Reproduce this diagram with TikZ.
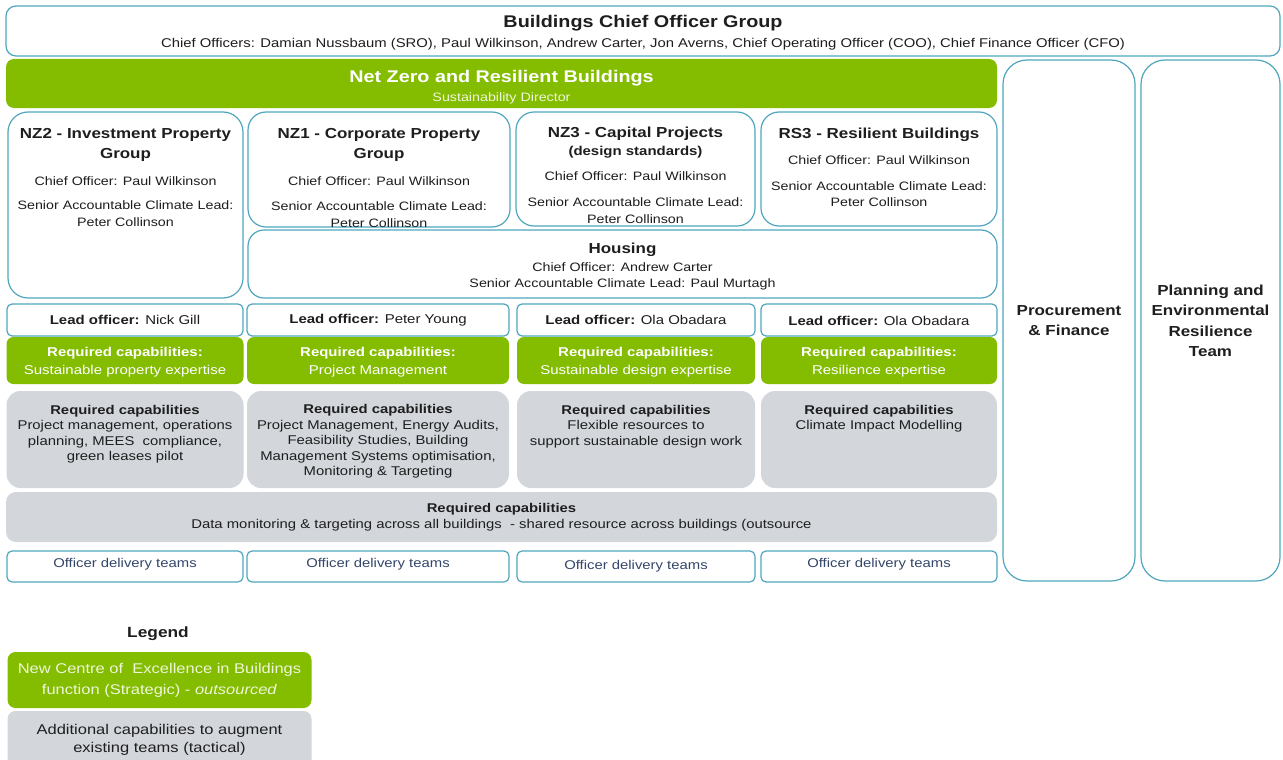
\documentclass[tikz,border=0pt]{standalone}
\usepackage{fontspec}
\setmainfont{Liberation Sans}[FakeStretch=1.17]
\definecolor{edge}{HTML}{4FA6BD}
\definecolor{nzgreen}{HTML}{84BD00}
\definecolor{capgrey}{HTML}{D3D7DC}
\definecolor{ink}{HTML}{1E1E1E}
\definecolor{teamblue}{HTML}{34466A}
\definecolor{palegreen}{HTML}{EEF7DA}
\tikzset{
  unitbox/.style={draw=edge, line width=1.2pt, fill=white, rounded corners=#1, inner sep=0pt},
  unitbox/.default=8pt,
  stratbox/.style={fill=nzgreen, rounded corners=#1, inner sep=0pt},
  stratbox/.default=7pt,
  tactbox/.style={fill=capgrey, rounded corners=#1, inner sep=0pt},
  tactbox/.default=14pt,
  headtxt/.style={font=\fontsize{14.5}{20.5}\selectfont\bfseries, text=ink, align=center, inner sep=0pt},
  bodytxt/.style={font=\fontsize{12.2}{16.5}\selectfont, text=ink, align=center, inner sep=0pt},
  captxt/.style={font=\fontsize{12.7}{15.5}\selectfont, text=ink, align=center, inner sep=0pt},
}
\begin{document}
\begin{tikzpicture}[x=1pt, y=-1pt]
  \useasboundingbox (0,0) rectangle (1283,760);
  % top rows
  \node[unitbox=10pt, minimum width=1274, minimum height=50] (cog) at (643,31) {};
  \node[headtxt, font=\fontsize{16.9}{20}\selectfont\bfseries] (cogt) at (643,23.5) {Buildings Chief Officer Group};
  \node[bodytxt, font=\fontsize{12.7}{16}\selectfont] (cogs) at (643,44.5) {Chief Officers: Damian Nussbaum (SRO), Paul Wilkinson, Andrew Carter, Jon Averns, Chief Operating Officer (COO), Chief Finance Officer (CFO)};
  \node[stratbox=8pt, minimum width=991, minimum height=49] (nzr) at (501.5,83.5) {};
  \node[headtxt, text=white, font=\fontsize{16.9}{20}\selectfont\bfseries] (nzrt) at (501.5,78.5) {Net Zero and Resilient Buildings};
  \node[bodytxt, text=palegreen] (nzrs) at (501.5,98) {Sustainability Director};
  % side columns
  \node[unitbox=24pt, minimum width=132, minimum height=521] (proc) at (1069,320.5) {};
  \node[headtxt] (proct) at (1069,320.5) {Procurement\\\& Finance};
  \node[unitbox=24pt, minimum width=139, minimum height=521] (plan) at (1210.5,320.5) {};
  \node[headtxt] (plant) at (1210.5,321) {Planning and\\Environmental\\Resilience\\Team};
  % programme boxes
  \node[unitbox=20pt, minimum width=235, minimum height=186] (nz2) at (125.5,205) {};
  \node[headtxt] (nz2t) at (125.5,145) {NZ2 - Investment Property\\Group};
  \node[bodytxt] (nz2c) at (125.5,181) {Chief Officer: Paul Wilkinson};
  \node[bodytxt] (nz2s) at (125.5,213.5) {Senior Accountable Climate Lead:\\Peter Collinson};
  \node[unitbox=18pt, minimum width=262, minimum height=115] (nz1) at (379,169.5) {};
  \node[headtxt] (nz1t) at (379,145) {NZ1 - Corporate Property\\Group};
  \node[bodytxt] (nz1c) at (379,181) {Chief Officer: Paul Wilkinson};
  \node[bodytxt] (nz1s) at (379,214.5) {Senior Accountable Climate Lead:\\Peter Collinson};
  \node[unitbox=18pt, minimum width=239, minimum height=114] (nz3) at (635.5,169) {};
  \node[headtxt] (nz3t) at (635.5,133.5) {NZ3 - Capital Projects};
  \node[headtxt, font=\fontsize{12.8}{16}\selectfont\bfseries] (nz3d) at (635.5,152.5) {(design standards)};
  \node[bodytxt] (nz3c) at (635.5,176) {Chief Officer: Paul Wilkinson};
  \node[bodytxt] (nz3s) at (635.5,210.5) {Senior Accountable Climate Lead:\\Peter Collinson};
  \node[unitbox=18pt, minimum width=236, minimum height=114] (rs3) at (879,169) {};
  \node[headtxt] (rs3t) at (879,134.5) {RS3 - Resilient Buildings};
  \node[bodytxt] (rs3c) at (879,160) {Chief Officer: Paul Wilkinson};
  \node[bodytxt] (rs3s) at (879,194) {Senior Accountable Climate Lead:\\Peter Collinson};
  \node[unitbox=16pt, minimum width=749, minimum height=68] (hou) at (622.5,264) {};
  \node[headtxt] (hout) at (622.5,250) {Housing};
  \node[bodytxt] (houc) at (622.5,267) {Chief Officer: Andrew Carter};
  \node[bodytxt] (hous) at (622.5,284) {Senior Accountable Climate Lead: Paul Murtagh};
  % lead officers
  \node[unitbox=5pt, minimum width=236, minimum height=32] (lead2) at (125,320) {};
  \node[bodytxt, font=\fontsize{12.8}{16}\selectfont] (lead2t) at (125,320) {\textbf{Lead officer:} Nick Gill};
  \node[unitbox=5pt, minimum width=262, minimum height=32] (lead1) at (378,320) {};
  \node[bodytxt, font=\fontsize{12.8}{16}\selectfont] (lead1t) at (378,320) {\textbf{Lead officer:} Peter Young};
  \node[unitbox=5pt, minimum width=238, minimum height=32] (lead3) at (636,320) {};
  \node[bodytxt, font=\fontsize{12.8}{16}\selectfont] (lead3t) at (636,320) {\textbf{Lead officer:} Ola Obadara};
  \node[unitbox=5pt, minimum width=236, minimum height=32] (leadr) at (879,320) {};
  \node[bodytxt, font=\fontsize{12.8}{16}\selectfont] (leadrt) at (879,321) {\textbf{Lead officer:} Ola Obadara};
  % strategic capabilities
  \node[stratbox, minimum width=237, minimum height=47] (str2) at (125,360.5) {};
  \node[captxt, text=white, font=\fontsize{12.8}{18}\selectfont] (str2t) at (125,362.5) {\textbf{Required capabilities:}\\Sustainable property expertise};
  \node[stratbox, minimum width=262, minimum height=47] (str1) at (378,360.5) {};
  \node[captxt, text=white, font=\fontsize{12.8}{18}\selectfont] (str1t) at (378,362.5) {\textbf{Required capabilities:}\\Project Management};
  \node[stratbox, minimum width=238, minimum height=47] (str3) at (636,360.5) {};
  \node[captxt, text=white, font=\fontsize{12.8}{18}\selectfont] (str3t) at (636,362.5) {\textbf{Required capabilities:}\\Sustainable design expertise};
  \node[stratbox, minimum width=236, minimum height=47] (strr) at (879,360.5) {};
  \node[captxt, text=white, font=\fontsize{12.8}{18}\selectfont] (strrt) at (879,362.5) {\textbf{Required capabilities:}\\Resilience expertise};
  % tactical capabilities
  \node[tactbox, minimum width=237, minimum height=97] (tac2) at (125,439.5) {};
  \node[captxt] (tac2t) at (125,434) {\textbf{Required capabilities}\\Project management, operations\\planning, MEES\ \ compliance,\\green leases pilot};
  \node[tactbox, minimum width=262, minimum height=97] (tac1) at (378,439.5) {};
  \node[captxt] (tac1t) at (378,441.5) {\textbf{Required capabilities}\\Project Management, Energy Audits,\\Feasibility Studies, Building\\Management Systems optimisation,\\Monitoring \& Targeting};
  \node[tactbox, minimum width=238, minimum height=97] (tac3) at (636,439.5) {};
  \node[captxt] (tac3t) at (636,426.5) {\textbf{Required capabilities}\\Flexible resources to\\support sustainable design work};
  \node[tactbox, minimum width=236, minimum height=97] (tacr) at (879,439.5) {};
  \node[captxt] (tacrt) at (879,418.5) {\textbf{Required capabilities}\\Climate Impact Modelling};
  \node[tactbox=10pt, minimum width=991, minimum height=50] (shared) at (501.5,517) {};
  \node[captxt] (sharedt) at (501.5,517) {\textbf{Required capabilities}\\Data monitoring \& targeting across all buildings\ \ - shared resource across buildings (outsource};
  % delivery teams
  \node[unitbox=5pt, minimum width=236, minimum height=31] (team2) at (125,566.5) {};
  \node[bodytxt, text=teamblue, font=\fontsize{12.7}{16}\selectfont] (team2t) at (125,564) {Officer delivery teams};
  \node[unitbox=5pt, minimum width=262, minimum height=31] (team1) at (378,566.5) {};
  \node[bodytxt, text=teamblue, font=\fontsize{12.7}{16}\selectfont] (team1t) at (378,564) {Officer delivery teams};
  \node[unitbox=5pt, minimum width=238, minimum height=31] (team3) at (636,566.5) {};
  \node[bodytxt, text=teamblue, font=\fontsize{12.7}{16}\selectfont] (team3t) at (636,566) {Officer delivery teams};
  \node[unitbox=5pt, minimum width=236, minimum height=31] (teamr) at (879,566.5) {};
  \node[bodytxt, text=teamblue, font=\fontsize{12.7}{16}\selectfont] (teamrt) at (879,564) {Officer delivery teams};
  % legend
  \node[headtxt, font=\fontsize{14.8}{17}\selectfont\bfseries] (leg) at (158,634) {Legend};
  \node[stratbox=8pt, minimum width=304, minimum height=56] (legs) at (159.5,680) {};
  \node[captxt, text=palegreen, font=\fontsize{14.1}{21}\selectfont] (legst) at (159.5,680.5) {New Centre of\ \ Excellence in Buildings\\function (Strategic) - \textit{outsourced}};
  \node[tactbox=8pt, minimum width=304, minimum height=60] (legt) at (159.5,741) {};
  \node[captxt, font=\fontsize{14.1}{18}\selectfont] (legtt) at (159.5,739.5) {Additional capabilities to augment\\existing teams (tactical)};
\end{tikzpicture}
\end{document}
